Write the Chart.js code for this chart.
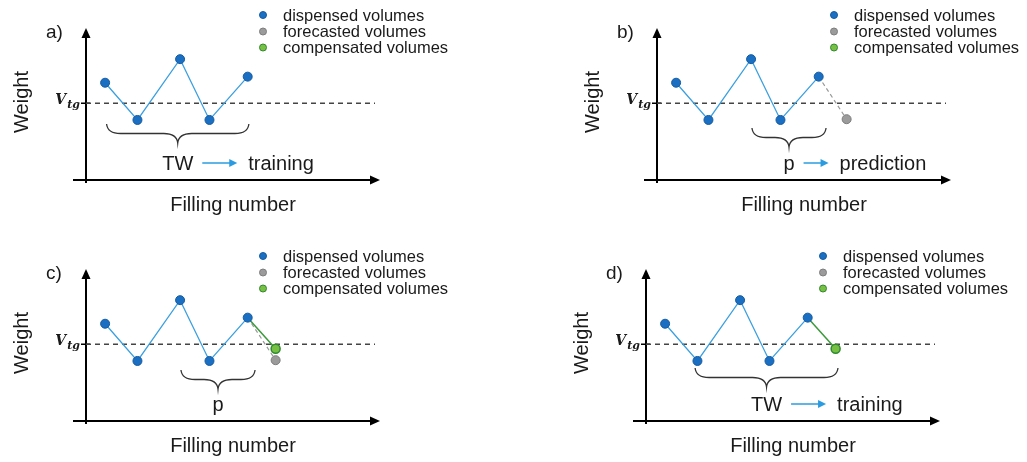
<!DOCTYPE html>
<html>
<head>
<meta charset="utf-8">
<script src="https://cdn.jsdelivr.net/npm/chart.js@4.4.0/dist/chart.umd.min.js"></script>
<style>
  body { margin: 0; background: #fff; width: 1027px; height: 462px; overflow: hidden; position: relative; }
  canvas { position: absolute; }
</style>
</head>
<body>
<canvas id="panelA" width="456" height="221" style="left:0px;top:0px"></canvas>
<canvas id="panelB" width="456" height="221" style="left:571px;top:0px"></canvas>
<canvas id="panelC" width="456" height="221" style="left:0px;top:241px"></canvas>
<canvas id="panelD" width="456" height="221" style="left:560px;top:241px"></canvas>
<script>
// schematic values (arbitrary units)
const fillingNumber = [0.65, 1.75, 3.2, 4.2, 5.5, 6.45];
const dispensed = [6.4, 3.95, 7.95, 3.95, 6.8];
const forecasted = 4.0;       // predicted next volume (filling 6)
const compensated = 4.75;     // corrected next volume (filling 6)
const targetWeight = 5.05;    // V_tg
const targetLineEnd = 9.83;

const panelIds = ['panelA', 'panelB', 'panelC', 'panelD'];
const panelLetters = ['a)', 'b)', 'c)', 'd)'];
const showForecast = [false, true, true, false];
const showCompensated = [false, false, true, true];
const braceFrom = [0.7, 3.23, 3.23, 1.67];
const braceTo = [5.54, 5.75, 5.75, 6.53];
const windowNames = ['TW', 'p', 'p', 'TW'];
const windowTargets = ['training', 'prediction', '', 'training'];

const legendLabels = ['dispensed volumes', 'forecasted volumes', 'compensated volumes'];

const BLUE = '#1b6fc2', BLUE_EDGE = '#145aa0', BLUE_LINE = '#3a9fe0';
const GREY = '#9b9b9b', GREY_EDGE = '#7d7d7d';
const GREEN = '#78c043', GREEN_EDGE = '#2f8a2f', GREEN_LINE = '#3a9a3a';
const SANS = '"Liberation Sans", Arial, sans-serif';

function arrowHead(ctx, x, y, dir, len, half) {
    ctx.beginPath();
    if (dir === 'right') {
        ctx.moveTo(x, y); ctx.lineTo(x - len, y - half); ctx.lineTo(x - len, y + half);
    } else {
        ctx.moveTo(x, y); ctx.lineTo(x - half, y + len); ctx.lineTo(x + half, y + len);
    }
    ctx.closePath();
    ctx.fill();
}

function drawBrace(ctx, x1, x2, top, depth) {
    const xm = (x1 + x2) / 2;
    const mid = top + depth * 0.5;
    const q = Math.min(14, (x2 - x1) / 5);
    ctx.beginPath();
    ctx.moveTo(x1, top);
    ctx.quadraticCurveTo(x1 + 1, mid, x1 + q, mid);
    ctx.lineTo(xm - q, mid);
    ctx.quadraticCurveTo(xm - 1, mid, xm, top + depth);
    ctx.quadraticCurveTo(xm + 1, mid, xm + q, mid);
    ctx.lineTo(x2 - q, mid);
    ctx.quadraticCurveTo(x2 - 1, mid, x2, top);
    ctx.stroke();
}

// axes, labels, legend and brace drawn around the data
const schematicPlugin = {
    id: 'schematic',
    beforeDatasetsDraw(chart) {
        const ctx = chart.ctx;
        const xs = chart.scales.x, ys = chart.scales.y;
        const ox = xs.getPixelForValue(0), oy = ys.getPixelForValue(0);
        const xEnd = xs.getPixelForValue(10), yEnd = ys.getPixelForValue(10);
        ctx.save();
        ctx.strokeStyle = '#000';
        ctx.fillStyle = '#000';
        ctx.lineWidth = 2;
        ctx.beginPath();
        ctx.moveTo(ox - 13, oy); ctx.lineTo(xEnd - 6, oy);
        ctx.moveTo(ox, oy + 3); ctx.lineTo(ox, yEnd + 6);
        ctx.stroke();
        arrowHead(ctx, xEnd, oy, 'right', 10, 4.5);
        arrowHead(ctx, ox, yEnd, 'up', 10, 4.5);
        // V_tg tick
        const yt = ys.getPixelForValue(targetWeight);
        ctx.lineWidth = 1.5;
        ctx.beginPath();
        ctx.moveTo(ox - 5, yt); ctx.lineTo(ox + 4, yt);
        ctx.stroke();
        ctx.restore();
    },
    afterDraw(chart) {
        const ctx = chart.ctx;
        const i = chart.options.plugins.schematic.panel;
        const xs = chart.scales.x, ys = chart.scales.y;
        const ox = xs.getPixelForValue(0), oy = ys.getPixelForValue(0);
        const yEnd = ys.getPixelForValue(10);
        ctx.save();
        ctx.fillStyle = '#1a1a1a';

        // panel letter
        ctx.font = '19px ' + SANS;
        ctx.textBaseline = 'middle';
        ctx.textAlign = 'left';
        ctx.fillText(panelLetters[i], ox - 40, yEnd + 5);

        // axis titles
        ctx.font = '20px ' + SANS;
        ctx.textAlign = 'center';
        ctx.fillText('Filling number', ox + 147, oy + 25);
        ctx.save();
        ctx.translate(ox - 64, oy - 78);
        ctx.rotate(-Math.PI / 2);
        ctx.fillText('Weight', 0, 0);
        ctx.restore();

        // V_tg label
        const yt = ys.getPixelForValue(targetWeight);
        ctx.textAlign = 'right';
        ctx.textBaseline = 'alphabetic';
        ctx.font = 'bold italic 11px "DejaVu Serif", serif';
        const wTg = ctx.measureText('tg').width;
        ctx.fillText('tg', ox - 6, yt + 5);
        ctx.font = 'bold italic 14px "DejaVu Serif", serif';
        ctx.fillText('V', ox - 7 - wTg, yt + 1);

        // legend
        const legendColors = [[BLUE, BLUE_EDGE], [GREY, GREY_EDGE], [GREEN, GREEN_EDGE]];
        const rows = [oy - 165, oy - 148.5, oy - 132.5];
        ctx.font = '16.5px ' + SANS;
        ctx.textAlign = 'left';
        ctx.textBaseline = 'middle';
        legendLabels.forEach((lab, k) => {
            ctx.beginPath();
            ctx.arc(ox + 177, rows[k], 3.5, 0, Math.PI * 2);
            ctx.fillStyle = legendColors[k][0];
            ctx.fill();
            ctx.lineWidth = 1;
            ctx.strokeStyle = legendColors[k][1];
            ctx.stroke();
            ctx.fillStyle = '#1a1a1a';
            ctx.fillText(lab, ox + 197, rows[k] + 1);
        });

        // brace over the window
        const braceTops = [56, 52, 51, 53];
        const x1 = xs.getPixelForValue(braceFrom[i]);
        const x2 = xs.getPixelForValue(braceTo[i]);
        ctx.strokeStyle = '#333';
        ctx.lineWidth = 1.3;
        drawBrace(ctx, x1, x2, oy - braceTops[i], 19);

        // window label and arrow
        const xm = (x1 + x2) / 2;
        ctx.font = '20px ' + SANS;
        ctx.textBaseline = 'alphabetic';
        ctx.textAlign = 'center';
        ctx.fillStyle = '#1a1a1a';
        ctx.fillText(windowNames[i], xm, oy - 10);
        if (windowTargets[i]) {
            const wName = ctx.measureText(windowNames[i]).width;
            const ax1 = xm + wName / 2 + 9;
            const ax2 = ax1 + (windowNames[i] === 'p' ? 25 : 35);
            ctx.strokeStyle = '#2a9be0';
            ctx.fillStyle = '#2a9be0';
            ctx.lineWidth = 1.5;
            ctx.beginPath();
            ctx.moveTo(ax1, oy - 17); ctx.lineTo(ax2 - 6, oy - 17);
            ctx.stroke();
            arrowHead(ctx, ax2, oy - 17, 'right', 8, 4);
            ctx.fillStyle = '#1a1a1a';
            ctx.textAlign = 'left';
            ctx.fillText(windowTargets[i], ax2 + 11, oy - 10);
        }
        ctx.restore();
    }
};

function buildDatasets(i) {
    const pts = dispensed.map((v, k) => ({ x: fillingNumber[k], y: v }));
    const last = pts[pts.length - 1];
    const next = fillingNumber[dispensed.length];
    const sets = [{
        data: pts,
        showLine: true,
        borderColor: BLUE_LINE,
        borderWidth: 1.3,
        pointRadius: 4.5,
        pointBackgroundColor: BLUE,
        pointBorderColor: BLUE_EDGE,
        pointBorderWidth: 1,
        order: 1
    }];
    if (showCompensated[i]) {
        sets.push({
            data: [last, { x: next, y: compensated }],
            showLine: true,
            borderColor: GREEN_LINE,
            borderWidth: 1.5,
            pointRadius: [0, 4.5],
            pointBackgroundColor: GREEN,
            pointBorderColor: GREEN_EDGE,
            pointBorderWidth: 1.5,
            order: 2
        });
    }
    if (showForecast[i]) {
        sets.push({
            data: [last, { x: next, y: forecasted }],
            showLine: true,
            borderColor: '#999',
            borderWidth: 1.2,
            borderDash: [4, 3],
            pointRadius: [0, 4.5],
            pointBackgroundColor: GREY,
            pointBorderColor: GREY_EDGE,
            pointBorderWidth: 1,
            order: 3
        });
    }
    sets.push({
        data: [{ x: 0, y: targetWeight }, { x: targetLineEnd, y: targetWeight }],
        showLine: true,
        borderColor: '#444',
        borderWidth: 1.3,
        borderDash: [5, 4],
        pointRadius: 0,
        order: 4
    });
    return sets;
}

panelIds.forEach((id, i) => {
    new Chart(document.getElementById(id), {
        type: 'scatter',
        data: { datasets: buildDatasets(i) },
        options: {
            responsive: false,
            animation: false,
            devicePixelRatio: 1,
            layout: { padding: { left: 86, top: 28, right: 76, bottom: 41 } },
            plugins: {
                legend: { display: false },
                tooltip: { enabled: false },
                schematic: { panel: i }
            },
            scales: {
                x: { type: 'linear', min: 0, max: 10, display: false },
                y: { type: 'linear', min: 0, max: 10, display: false }
            }
        },
        plugins: [schematicPlugin]
    });
});
</script>
</body>
</html>
